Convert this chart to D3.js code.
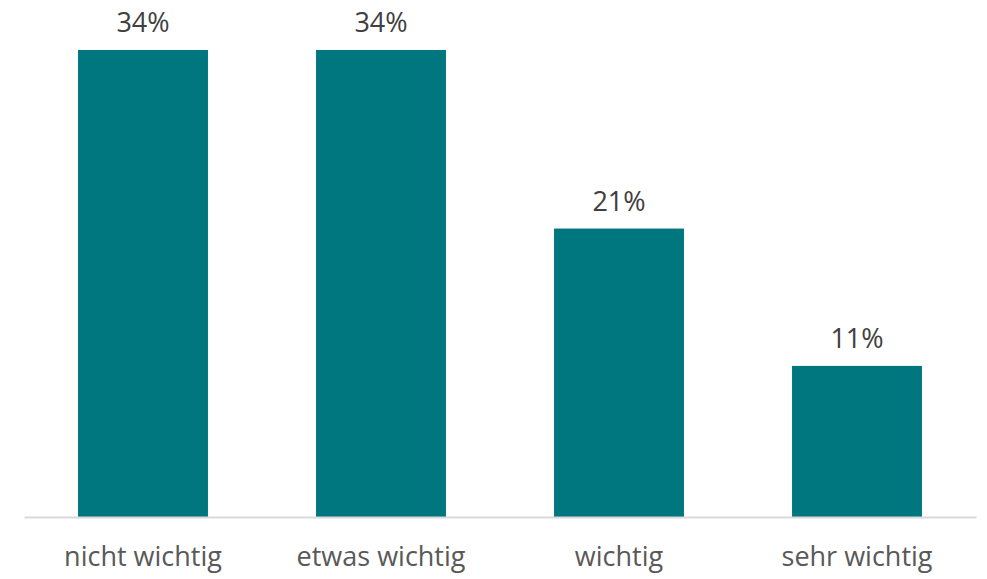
<!DOCTYPE html>
<html>
<head>
<meta charset="utf-8">
<script src="https://cdn.jsdelivr.net/npm/d3@7"></script>
<style>
  body { margin: 0; background: #fff; }
  text { font-family: "Open Sans", sans-serif; }
</style>
</head>
<body>
<div id="chart"></div>
<script>
// Chart data
var categories = ["nicht wichtig", "etwas wichtig", "wichtig", "sehr wichtig"];
var values = [34, 34, 21, 11];
var valueLabels = ["34%", "34%", "21%", "11%"];

var svgWidth = 987;
var svgHeight = 579;

var margin = { top: 50, right: 11, bottom: 62, left: 24 };
var width = svgWidth - margin.left - margin.right;
var height = svgHeight - margin.top - margin.bottom;

var svg = d3.select("#chart")
  .append("svg")
  .attr("width", svgWidth)
  .attr("height", svgHeight);

var chartGroup = svg.append("g")
  .attr("transform", `translate(${margin.left}, ${margin.top})`);

var data = categories.map(function(c, i) {
  return { cat: c, value: values[i], label: valueLabels[i] };
});

// scales
var xBandScale = d3.scaleBand()
  .domain(categories)
  .range([0, width])
  .paddingInner(0.454)
  .paddingOuter(0.227);

var yLinearScale = d3.scaleLinear()
  .domain([0, 34])
  .range([height, 0]);

// bars
chartGroup.selectAll("rect.bar")
  .data(data)
  .enter()
  .append("rect")
  .attr("class", "bar")
  .attr("x", d => xBandScale(d.cat))
  .attr("y", d => yLinearScale(d.value))
  .attr("width", xBandScale.bandwidth())
  .attr("height", d => height - yLinearScale(d.value))
  .attr("fill", "#00767f");

// baseline axis
var bottomAxis = d3.axisBottom(xBandScale).tickSize(0).tickPadding(49);
var xAxis = chartGroup.append("g")
  .attr("transform", `translate(0, ${height})`)
  .call(bottomAxis);
xAxis.select(".domain")
  .attr("stroke", "#d9d9d9")
  .attr("stroke-width", 2);
xAxis.selectAll("text")
  .attr("fill", "#595959")
  .style("font-size", "27px")
  .attr("dy", "0");

// value labels
chartGroup.selectAll("text.val")
  .data(data)
  .enter()
  .append("text")
  .attr("class", "val")
  .attr("x", d => xBandScale(d.cat) + xBandScale.bandwidth() / 2)
  .attr("y", d => yLinearScale(d.value) - 18)
  .attr("text-anchor", "middle")
  .attr("fill", "#404040")
  .style("font-size", "27px")
  .text(d => d.label);
</script>
</body>
</html>
